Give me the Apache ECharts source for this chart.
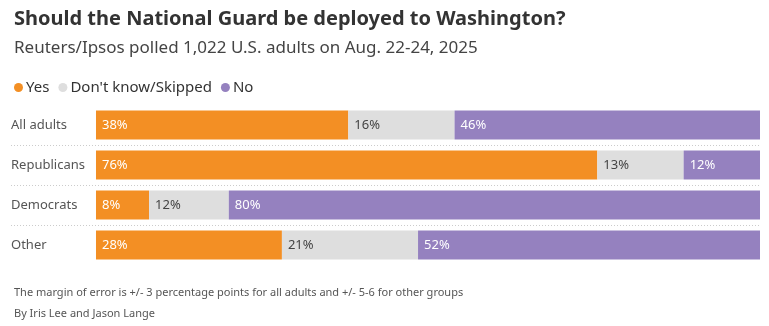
<!DOCTYPE html>
<html><head><meta charset="utf-8">
<script src="https://cdn.jsdelivr.net/npm/echarts@6/dist/echarts.min.js"></script>
<style>html,body{margin:0;padding:0;background:#fff}#c{width:769px;height:326px}</style>
</head><body><div id="c"></div>
<script>
const categories = ['All adults', 'Republicans', 'Democrats', 'Other'];
const yesValues = [38, 75.5, 8, 28];
const dkValues = [16, 13, 12, 20.5];
const noValues = [46, 11.5, 80, 51.5];
const yesLabels = ['38%', '76%', '8%', '28%'];
const dkLabels = ['16%', '13%', '12%', '21%'];
const noLabels = ['46%', '12%', '80%', '52%'];
const FONT = 'Noto Sans';

const chart = echarts.init(document.getElementById('c'), null, {renderer: 'canvas'});
function mk(name, vals, labels, color, textColor) {
  return {
    name, type: 'bar', stack: 'total', barWidth: 29,
    data: vals,
    itemStyle: {color},
    label: {show: true, position: 'insideLeft', distance: 6, color: textColor,
      fontFamily: FONT, fontSize: 13, formatter: p => labels[p.dataIndex]},
    emphasis: {disabled: true}
  };
}
chart.setOption({
  animation: false,
  textStyle: {fontFamily: FONT},
  title: [
    {text: 'Should the National Guard be deployed to Washington?', left: 9, top: 4,
     textStyle: {fontFamily: FONT, fontSize: 20, fontWeight: 'bold', color: '#333'}},
    {text: 'Reuters/Ipsos polled 1,022 U.S. adults on Aug. 22-24, 2025', left: 9, top: 35,
     textStyle: {fontFamily: FONT, fontSize: 17, fontWeight: 'normal', color: '#444'}},
    {text: 'The margin of error is +/- 3 percentage points for all adults and +/- 5-6 for other groups', left: 9, top: 282,
     textStyle: {fontFamily: FONT, fontSize: 11, fontWeight: 'normal', color: '#555'}},
    {text: 'By Iris Lee and Jason Lange', left: 9, top: 303,
     textStyle: {fontFamily: FONT, fontSize: 11, fontWeight: 'normal', color: '#555'}}
  ],
  legend: {
    left: 9, top: 75, icon: 'circle', itemWidth: 9, itemHeight: 9, itemGap: 9,
    textStyle: {fontFamily: FONT, fontSize: 15, color: '#333', padding: [0,0,0,-2]},
    data: ['Yes', "Don't know/Skipped", 'No'], selectedMode: false
  },
  grid: {left: 11, right: 9, top: 105, bottom: 61, containLabel: false},
  xAxis: {type: 'value', min: -12.8, max: 100, show: false},
  yAxis: {
    type: 'category', data: categories, inverse: true,
    axisLine: {show: false, onZero: false}, axisTick: {show: false},
    axisLabel: {align: 'left', margin: 0, color: '#555', fontFamily: FONT, fontSize: 13},
    splitLine: {show: true, showMinLine: false, showMaxLine: false,
      lineStyle: {type: [1, 2], color: '#ccc', width: 1}}
  },
  series: [
    mk('Yes', yesValues, yesLabels, '#f38f24', '#fff'),
    mk("Don't know/Skipped", dkValues, dkLabels, '#dedede', '#444'),
    mk('No', noValues, noLabels, '#9581bf', '#fff')
  ]
});
</script></body></html>
